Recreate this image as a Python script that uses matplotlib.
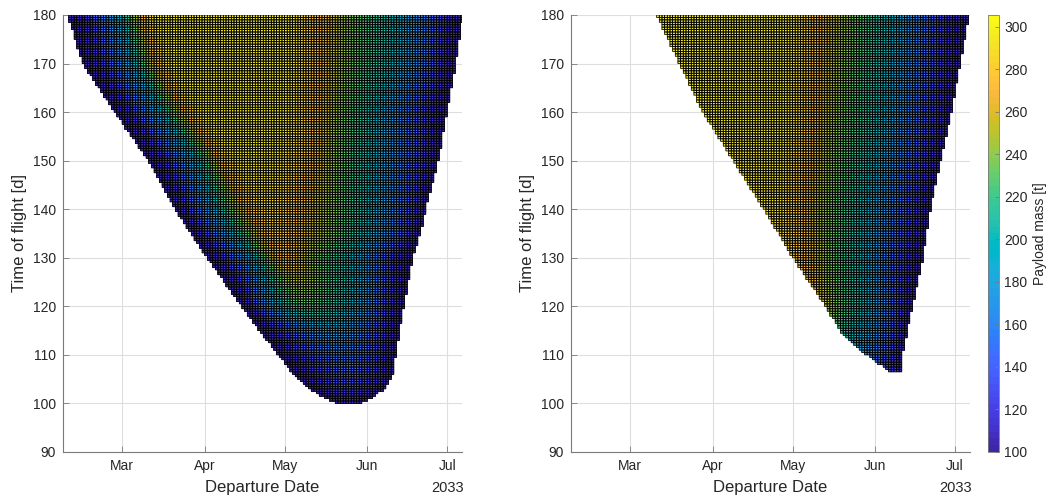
import numpy as np
import matplotlib
matplotlib.use('Agg')
import matplotlib.pyplot as plt
import matplotlib.dates as mdates
from matplotlib.colors import ListedColormap
from datetime import datetime

plt.rcParams['font.family'] = ['Liberation Sans', 'DejaVu Sans']

# Departure date in days after 1 Feb 2033, time of flight in days.
# Each row gives payload mass [t] at breakpoints along the departure axis;
# the first and last breakpoint of a row are the edges of the feasible region.
left_tof = [180, 170, 160, 150, 140, 135, 130, 125, 120, 115, 110, 106, 103, 101, 100]
left_days = [
    [7.8, 14.7, 20.0, 27.5, 31.6, 36.5, 41.0, 91.0, 98.5, 113.0, 130.0, 142.0, 151.0, 156.0],
    [13.2, 20.2, 25.5, 32.5, 37.0, 42.0, 46.5, 90.5, 98.0, 112.0, 129.0, 141.0, 149.0, 153.1],
    [25.4, 31.5, 35.5, 43.0, 47.5, 53.0, 57.5, 89.0, 97.0, 110.0, 122.0, 134.0, 145.0, 149.9],
    [37.9, 44.5, 49.0, 56.0, 61.0, 66.0, 72.0, 86.0, 96.0, 108.0, 121.0, 134.0, 143.5, 146.6],
    [47.9, 52.3, 56.5, 63.5, 69.5, 76.5, 82.0, 85.0, 91.0, 107.0, 120.0, 131.0, 138.5, 141.8],
    [53.8, 58.5, 63.0, 70.0, 75.5, 81.0, 85.0, 87.5, 92.0, 107.0, 119.0, 129.0, 136.5, 139.9],
    [60.0, 65.5, 71.0, 77.0, 81.0, 85.0, 88.5, 91.0, 96.0, 104.0, 112.0, 122.0, 131.0, 137.0],
    [66.5, 72.0, 76.5, 82.5, 87.0, 90.5, 94.0, 97.0, 101.0, 107.0, 114.0, 122.0, 130.0, 135.3],
    [73.0, 77.0, 80.0, 86.0, 91.0, 95.0, 98.0, 101.0, 105.0, 110.0, 115.0, 121.0, 128.0, 133.6],
    [79.6, 84.0, 88.0, 92.0, 96.0, 100.0, 104.0, 108.0, 112.0, 116.0, 120.0, 124.0, 128.0, 132.0],
    [86.7, 90.0, 93.0, 96.0, 99.0, 102.0, 106.0, 109.0, 112.0, 116.0, 120.0, 124.0, 127.5, 130.7],
    [92.6, 95.0, 98.0, 101.0, 104.0, 107.0, 110.0, 113.0, 116.0, 119.0, 122.0, 125.0, 127.5, 129.5],
    [98.2, 100.0, 102.0, 104.0, 106.0, 108.0, 110.0, 112.0, 114.0, 116.0, 119.0, 121.0, 124.0, 126.5],
    [104.5, 106.0, 107.5, 109.0, 110.5, 112.0, 113.0, 114.0, 115.0, 116.0, 117.0, 118.5, 120.0, 121.0],
    [109.0, 109.5, 110.0, 110.5, 111.0, 111.5, 112.0, 112.5, 113.0, 113.5, 114.5, 115.5, 116.5, 117.0],
]
left_mass = [
    [100, 115, 150, 195, 235, 278, 298, 297, 282, 240, 200, 155, 112, 102],
    [100, 115, 150, 195, 235, 278, 298, 297, 282, 240, 200, 155, 112, 102],
    [100, 115, 150, 195, 235, 278, 298, 297, 282, 240, 200, 155, 112, 100],
    [100, 115, 150, 195, 235, 278, 297, 295, 281, 240, 200, 152, 112, 100],
    [100, 115, 150, 195, 238, 276, 288, 286, 278, 240, 200, 158, 118, 100],
    [100, 115, 150, 195, 235, 268, 280, 280, 272, 238, 200, 158, 118, 100],
    [100, 115, 150, 190, 225, 258, 273, 272, 252, 225, 205, 160, 115, 100],
    [100, 115, 150, 195, 225, 243, 248, 246, 238, 220, 200, 165, 118, 100],
    [100, 112, 150, 190, 215, 226, 228, 225, 215, 205, 190, 165, 120, 100],
    [100, 110, 122, 140, 155, 168, 176, 178, 175, 165, 150, 135, 115, 100],
    [100, 105, 115, 125, 135, 143, 150, 155, 155, 150, 140, 125, 110, 100],
    [100, 104, 110, 118, 125, 132, 138, 140, 138, 132, 125, 116, 108, 100],
    [100, 102, 106, 110, 114, 118, 120, 122, 122, 120, 116, 112, 106, 100],
    [100, 102, 104, 106, 108, 110, 111, 112, 112, 111, 109, 106, 103, 100],
    [100, 101, 102, 103, 104, 105, 106, 106, 105, 104, 103, 102, 101, 100],
]

right_tof = [180, 160, 140, 130, 120, 115, 111.7, 109, 106.5]
right_days = [
    [38.0, 88.0, 96.5, 104.0, 112.0, 125.0, 138.0, 148.0, 155.2],
    [55.4, 86.0, 95.0, 101.0, 107.5, 122.0, 134.0, 144.5, 148.5],
    [78.3, 83.0, 90.5, 97.0, 103.0, 115.0, 127.5, 136.5, 140.6],
    [89.3, 91.0, 93.5, 100.5, 108.0, 114.5, 123.0, 133.0, 137.8],
    [101.5, 102.5, 104.0, 106.0, 110.0, 117.0, 125.0, 131.0, 133.8],
    [107.0, 108.0, 110.0, 113.0, 116.5, 120.0, 124.5, 129.0, 132.0],
    [113.1, 114.0, 115.5, 117.0, 119.0, 121.5, 124.5, 128.0, 130.7],
    [119.3, 120.0, 121.0, 122.0, 123.5, 125.0, 126.5, 128.5, 130.0],
    [125.8, 126.2, 126.6, 127.0, 127.5, 128.0, 128.5, 129.0, 129.5],
]
right_mass = [
    [296, 298, 280, 255, 237, 200, 155, 115, 102],
    [296, 298, 280, 255, 237, 200, 155, 115, 102],
    [292, 294, 280, 255, 237, 200, 155, 115, 102],
    [278, 278, 274, 245, 220, 200, 160, 115, 102],
    [252, 250, 245, 235, 220, 195, 155, 115, 102],
    [215, 212, 205, 195, 185, 170, 150, 120, 102],
    [185, 182, 178, 172, 165, 155, 140, 118, 102],
    [150, 148, 145, 140, 135, 128, 120, 110, 102],
    [120, 118, 116, 114, 112, 110, 108, 105, 102],
]

mass_lim = (100, 305.5)
cbar_ticks = list(range(100, 301, 20))
tof_ticks = list(range(90, 181, 10))

# MATLAB parula (64 colours)
parula = ListedColormap([
    [0.2422, 0.1504, 0.6603], [0.2504, 0.1650, 0.7076], [0.2578, 0.1818, 0.7511], [0.2647, 0.1978, 0.7952],
    [0.2706, 0.2147, 0.8364], [0.2751, 0.2342, 0.8710], [0.2783, 0.2559, 0.8991], [0.2803, 0.2782, 0.9221],
    [0.2813, 0.3006, 0.9414], [0.2810, 0.3228, 0.9579], [0.2795, 0.3447, 0.9717], [0.2760, 0.3667, 0.9829],
    [0.2699, 0.3892, 0.9906], [0.2602, 0.4123, 0.9952], [0.2440, 0.4358, 0.9988], [0.2206, 0.4603, 0.9973],
    [0.1963, 0.4847, 0.9892], [0.1834, 0.5074, 0.9798], [0.1786, 0.5289, 0.9682], [0.1764, 0.5499, 0.9520],
    [0.1687, 0.5703, 0.9359], [0.1540, 0.5902, 0.9218], [0.1460, 0.6091, 0.9079], [0.1380, 0.6276, 0.8973],
    [0.1248, 0.6459, 0.8883], [0.1113, 0.6635, 0.8763], [0.0952, 0.6798, 0.8598], [0.0689, 0.6948, 0.8394],
    [0.0297, 0.7082, 0.8163], [0.0036, 0.7203, 0.7917], [0.0067, 0.7312, 0.7660], [0.0433, 0.7411, 0.7394],
    [0.0964, 0.7500, 0.7120], [0.1408, 0.7584, 0.6842], [0.1717, 0.7670, 0.6554], [0.1938, 0.7758, 0.6251],
    [0.2161, 0.7843, 0.5923], [0.2470, 0.7918, 0.5567], [0.2906, 0.7973, 0.5188], [0.3406, 0.8008, 0.4789],
    [0.3909, 0.8029, 0.4354], [0.4456, 0.8024, 0.3909], [0.5044, 0.7993, 0.3480], [0.5616, 0.7942, 0.3045],
    [0.6174, 0.7876, 0.2612], [0.6720, 0.7793, 0.2227], [0.7242, 0.7698, 0.1910], [0.7738, 0.7598, 0.1646],
    [0.8203, 0.7498, 0.1535], [0.8634, 0.7406, 0.1596], [0.9035, 0.7330, 0.1774], [0.9393, 0.7288, 0.2100],
    [0.9728, 0.7298, 0.2394], [0.9956, 0.7434, 0.2371], [0.9970, 0.7659, 0.2199], [0.9952, 0.7893, 0.2028],
    [0.9892, 0.8136, 0.1885], [0.9786, 0.8386, 0.1766], [0.9676, 0.8639, 0.1643], [0.9610, 0.8890, 0.1537],
    [0.9597, 0.9135, 0.1423], [0.9628, 0.9373, 0.1265], [0.9691, 0.9606, 0.1064], [0.9769, 0.9839, 0.0805],
])
clear = ListedColormap([(0, 0, 0, 0)])

base = mdates.date2num(datetime(2033, 2, 1))
day_edges = np.arange(5.0, 157.1, 1.0)
tof_edges = np.arange(99.5, 180.01, 0.5)
day_c = 0.5 * (day_edges[:-1] + day_edges[1:])
tof_c = 0.5 * (tof_edges[:-1] + tof_edges[1:])


def build_field(tof_rows, day_rows, mass_rows):
    tof_rows = np.asarray(tof_rows, float)
    days = np.asarray(day_rows, float)
    mass = np.asarray(mass_rows, float)
    order = np.argsort(tof_rows)
    tof_rows, days, mass = tof_rows[order], days[order], mass[order]
    Z = np.full((len(tof_c), len(day_c)), np.nan)
    for i, t in enumerate(tof_c):
        if t < tof_rows[0]:
            continue
        j = np.searchsorted(tof_rows, t)
        if j >= len(tof_rows):
            dd, mm = days[-1], mass[-1]
        else:
            j = max(j, 1)
            w = (t - tof_rows[j - 1]) / (tof_rows[j] - tof_rows[j - 1])
            dd = days[j - 1] * (1 - w) + days[j] * w
            mm = mass[j - 1] * (1 - w) + mass[j] * w
        inside = (day_c >= dd[0]) & (day_c <= dd[-1])
        Z[i, inside] = np.interp(day_c[inside], dd, mm)
    return np.ma.masked_invalid(Z)


fig = plt.figure(figsize=(10.49, 5.03), dpi=100)
ax_l = fig.add_axes([0.0601, 0.1014, 0.3804, 0.8688])
ax_r = fig.add_axes([0.5443, 0.1014, 0.3804, 0.8688])
cax = fig.add_axes([0.9422, 0.1014, 0.0100, 0.8688])

txt_col = '#262626'
for ax, (tr, dr, mr) in zip([ax_l, ax_r], [(left_tof, left_days, left_mass),
                                           (right_tof, right_days, right_mass)]):
    Z = build_field(tr, dr, mr)
    # cell faces without seams, then the thin black cell edges on top
    pc = ax.pcolor(base + day_edges, tof_edges, Z, cmap=parula,
                   vmin=mass_lim[0], vmax=mass_lim[1],
                   edgecolors='none', antialiased=False)
    ax.pcolor(base + day_edges, tof_edges, Z, cmap=clear,
              edgecolors='k', linewidth=0.55)
    ax.set_xlim(base + 5.85, base + 155.6)
    ax.set_ylim(90, 180)
    ax.set_yticks(tof_ticks)
    ax.xaxis.set_major_locator(mdates.MonthLocator())
    ax.xaxis.set_major_formatter(mdates.DateFormatter('%b'))
    ax.set_axisbelow(True)
    ax.grid(True, color='#dedede', linewidth=0.8)
    for s in ['top', 'right']:
        ax.spines[s].set_visible(False)
    for s in ['left', 'bottom']:
        ax.spines[s].set_color('#7a7a7a')
        ax.spines[s].set_linewidth(0.8)
    ax.tick_params(direction='in', length=4, width=0.6, color='#7a7a7a',
                   labelsize=10, labelcolor=txt_col, pad=5)
    ax.set_ylabel('Time of flight [d]', fontsize=12, color=txt_col, labelpad=4)
    ax.set_xlabel('Departure Date', fontsize=12, color=txt_col, labelpad=5)
    ax.text(base + 150, -0.066, '2033', transform=ax.get_xaxis_transform(),
            ha='center', va='top', fontsize=10.5, color=txt_col)

cb = fig.colorbar(pc, cax=cax)
cb.set_ticks(cbar_ticks)
cb.outline.set_edgecolor('#7a7a7a')
cb.outline.set_linewidth(0.6)
cb.ax.tick_params(direction='in', length=3, width=0.6, color='#7a7a7a',
                  labelsize=10, labelcolor=txt_col, pad=4)
cb.set_label('Payload mass [t]', fontsize=10, color=txt_col, labelpad=4)

fig.savefig('out.png', dpi=100)
